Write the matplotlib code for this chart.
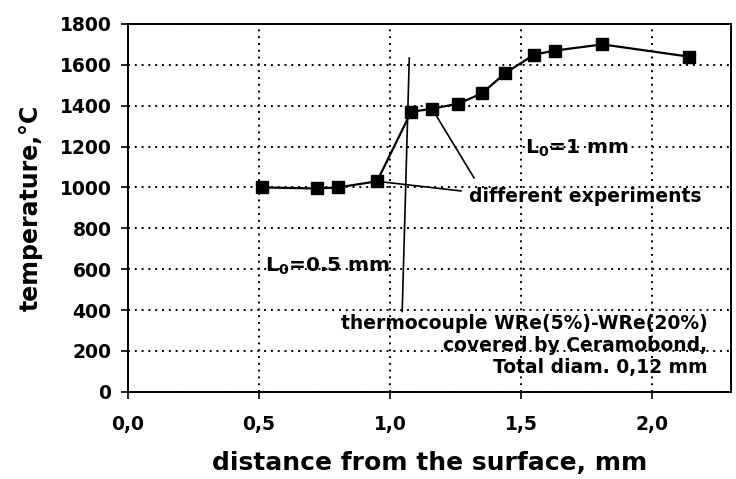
import matplotlib.pyplot as plt

plt.rcParams['font.family'] = ['DejaVu Sans']
plt.rcParams['font.weight'] = 'bold'

# data
dist = [0.51, 0.72, 0.80, 0.95, 1.08, 1.16, 1.26, 1.35, 1.44, 1.55, 1.63, 1.81, 2.14]
temp = [1000, 995, 1000, 1030, 1370, 1385, 1410, 1460, 1560, 1650, 1670, 1700, 1640]

xticks = [0.0, 0.5, 1.0, 1.5, 2.0]
xticklabels = ['0,0', '0,5', '1,0', '1,5', '2,0']
yticks = [0, 200, 400, 600, 800, 1000, 1200, 1400, 1600, 1800]

fig = plt.figure(figsize=(7.36, 4.79), dpi=100)
ax = fig.add_axes([0.174, 0.182, 0.819, 0.768])

ax.plot(dist, temp, color='black', lw=1.6, marker='s', markersize=8.5, zorder=3)

ax.set_xlim(0, 2.3)
ax.set_ylim(0, 1800)
ax.set_xticks(xticks)
ax.set_xticklabels(xticklabels)
ax.set_yticks(yticks)
ax.tick_params(direction='out', length=5, width=1.2, labelsize=13.5, pad=7)
ax.tick_params(axis='x', pad=12)
for lab in ax.get_xticklabels() + ax.get_yticklabels():
    lab.set_fontweight('bold')
ax.grid(True, color='black', linestyle=(0, (1, 2.5)), lw=1.4)
for s in ax.spines.values():
    s.set_linewidth(1.4)

ax.set_xlabel('distance from the surface, mm', fontsize=18, fontweight='bold', labelpad=12)
ax.set_ylabel('temperature,°C', fontsize=17, fontweight='bold', labelpad=12)

# annotations
ax.plot([1.073, 1.046], [1633, 393], color='black', lw=1.2)
ax.plot([0.95, 1.27], [1030, 983], color='black', lw=1.2)
ax.plot([1.16, 1.32], [1385, 1047], color='black', lw=1.2)
ax.text(1.30, 954, 'different experiments', fontsize=13.5, fontweight='bold', va='center')
ax.text(1.515, 1190, 'L$_\\mathbf{0}$=1 mm', fontsize=14.5, fontweight='bold', va='center')
ax.text(0.523, 615, 'L$_\\mathbf{0}$=0.5 mm', fontsize=14.5, fontweight='bold', va='center')
ax.text(2.21, 226, 'thermocouple WRe(5%)-WRe(20%)\ncovered by Ceramobond,\nTotal diam. 0,12 mm',
        fontsize=13.5, fontweight='bold', ha='right', va='center', multialignment='right',
        linespacing=1.2)

fig.savefig('out.png', dpi=100)
